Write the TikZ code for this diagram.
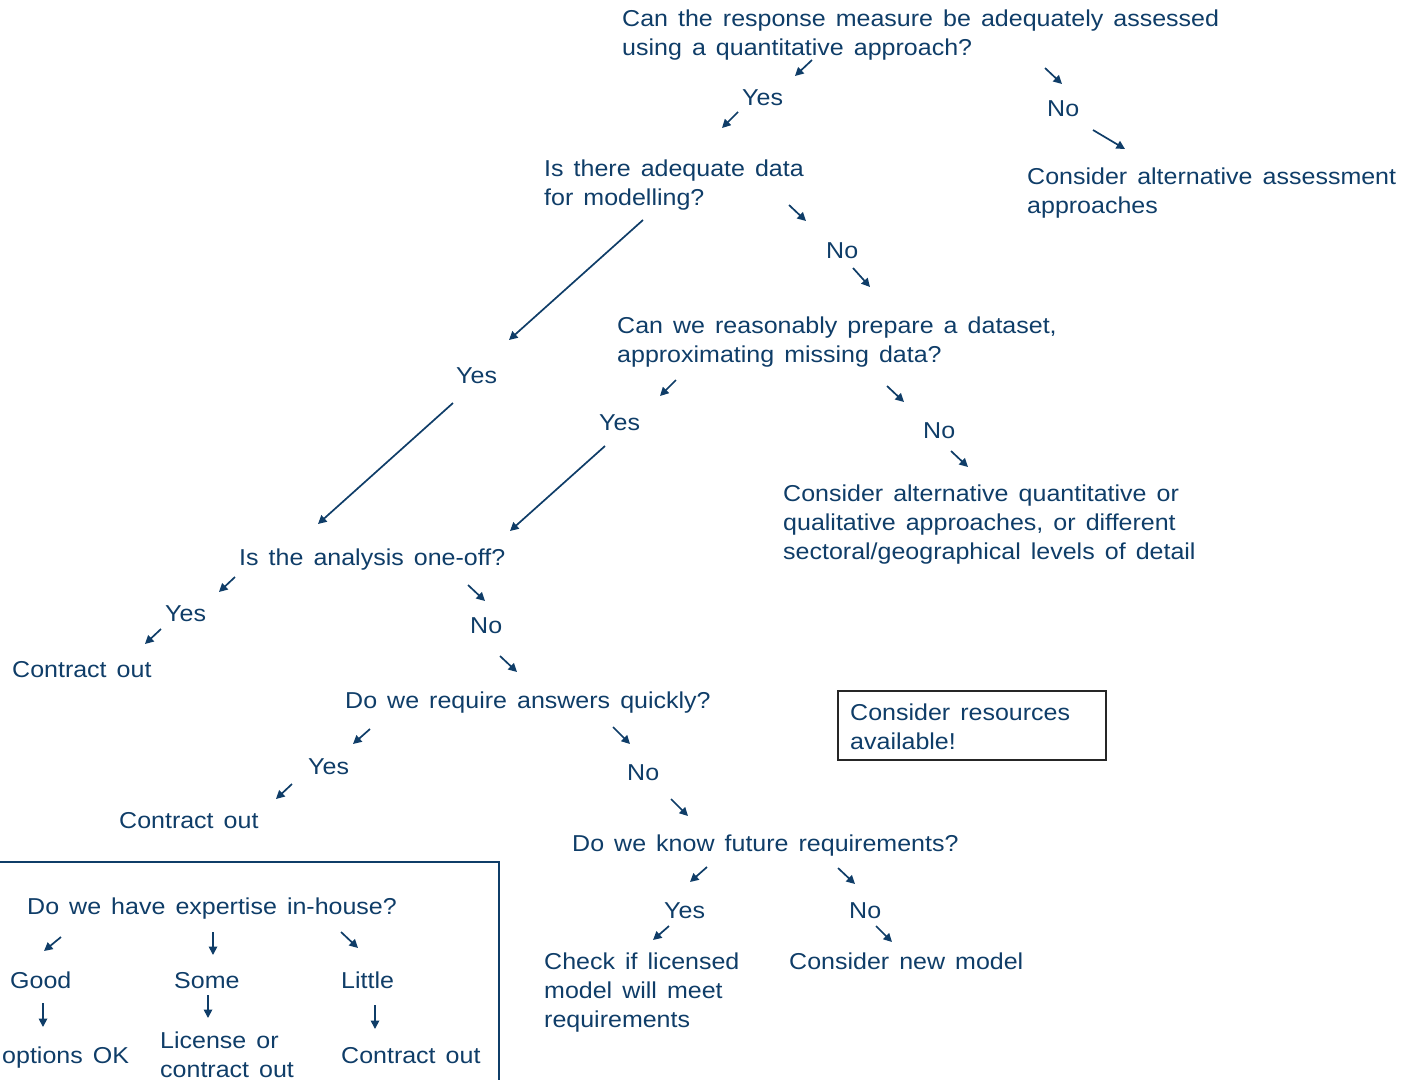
\documentclass[tikz,border=0pt]{standalone}
\usepackage{fontspec}
\setmainfont{Liberation Sans}[WordSpace=1.45,FakeStretch=1.087]
\usetikzlibrary{arrows.meta}
\definecolor{navy}{HTML}{0F3D68}
\begin{document}
\begin{tikzpicture}[x=1pt,y=-1pt,
  txt/.style={anchor=base west,inner sep=0pt,align=left,text=navy,font=\fontsize{23}{29}\selectfont},
  arr/.style={draw=navy,line width=1.7pt,-{Triangle[length=8.5pt,width=8.5pt]}},
  frameline/.style={draw=navy,line width=1.2pt}]
\useasboundingbox (0,0) rectangle (1407,1080);
% text nodes (base anchor = baseline of the last line)
\node[txt] (q1) at (622,55) {Can the response measure be adequately assessed\\using a quantitative approach?};
\node[txt] (y1) at (742,105) {Yes};
\node[txt] (n1) at (1047,116) {No};
\node[txt] (alt1) at (1027,213) {Consider alternative assessment\\approaches};
\node[txt] (q2) at (544,205) {Is there adequate data\\for modelling?};
\node[txt] (n2) at (826,258) {No};
\node[txt] (q3) at (617,362) {Can we reasonably prepare a dataset,\\approximating missing data?};
\node[txt] (y2) at (456,383) {Yes};
\node[txt] (y3) at (599,430) {Yes};
\node[txt] (n3) at (923,438) {No};
\node[txt] (alt2) at (783,559) {Consider alternative quantitative or\\qualitative approaches, or different\\sectoral/geographical levels of detail};
\node[txt] (q4) at (239,565) {Is the analysis one-off?};
\node[txt] (y4) at (165,621) {Yes};
\node[txt] (co1) at (12,677) {Contract out};
\node[txt] (n4) at (470,633) {No};
\node[txt] (q5) at (345,708) {Do we require answers quickly?};
\node[txt] (y5) at (308,774) {Yes};
\node[txt] (co2) at (119,828) {Contract out};
\node[txt] (n5) at (627,780) {No};
\node[txt] (q6) at (572,851) {Do we know future requirements?};
\node[txt] (y6) at (664,918) {Yes};
\node[txt] (chk) at (544,1027) {Check if licensed\\model will meet\\requirements};
\node[txt] (n6) at (849,918) {No};
\node[txt] (newm) at (789,969) {Consider new model};
\node[txt] (res) at (850,749) {Consider resources\\available!};
\draw[line width=1.2pt,draw=black!85] (838,691) rectangle (1106,760);
\node[txt] (exp) at (27,914) {Do we have expertise in-house?};
\node[txt] (good) at (10,988) {Good};
\node[txt] (some) at (174,988) {Some};
\node[txt] (little) at (341,988) {Little};
\node[txt] (opt) at (2,1063) {options OK};
\node[txt] (lic) at (160,1077) {License or\\contract out};
\node[txt] (co3) at (341,1063) {Contract out};
% frame of the expertise panel
\coordinate (fA) at (0,862);
\coordinate (fB) at (499,862);
\coordinate (fC) at (499,1080);
\draw[frameline] (fA) -- (fB) -- (fC);
% arrow end points
\foreach \n/\xa/\ya/\xb/\yb in {
  a1/812/60/795/76, a2/738/112/722/128, a3/1045/68/1062/84, a4/1093/130/1125/149,
  a5/789/205/806/221, a6/853/268/870/287, a7/643/220/509/340, a8/453/403/318/524,
  a9/676/380/660/396, a10/605/446/510/531, a11/887/386/904/402, a12/951/451/968/467,
  a13/235/577/219/592, a14/161/629/145/644, a15/468/585/485/601, a16/500/656/517/672,
  a17/370/729/353/744, a18/292/784/276/799, a19/613/727/630/744, a20/671/799/688/816,
  a21/707/867/690/882, a22/669/926/653/940, a23/838/868/855/884, a24/876/926/892/942,
  a25/61/937/44/951, a26/213/932/213/955, a27/341/932/358/948,
  a28/43/1003/43/1027, a29/208/995/208/1018, a30/375/1005/375/1029}{
  \coordinate (\n s) at (\xa,\ya);
  \coordinate (\n e) at (\xb,\yb);
}
\foreach \n in {a1,a2,a3,a4,a5,a6,a7,a8,a9,a10,a11,a12,a13,a14,a15,a16,a17,a18,a19,a20,a21,a22,a23,a24,a25,a26,a27,a28,a29,a30}{
  \draw[arr] (\n s) -- (\n e);
}
\end{tikzpicture}
\end{document}
